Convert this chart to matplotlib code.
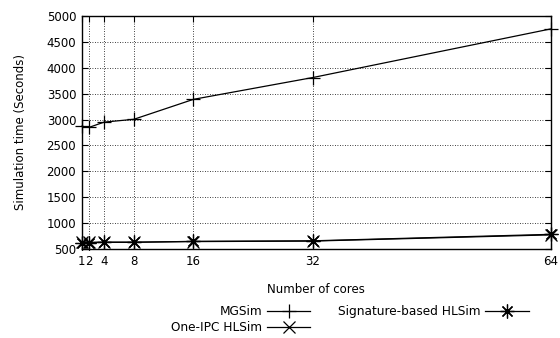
import matplotlib.pyplot as plt

# Data
cores = [1, 2, 4, 8, 16, 32, 64]
mgsim = [2870, 2850, 2950, 3005, 3390, 3810, 4750]
one_ipc = [635, 630, 635, 635, 645, 655, 775]
signature = [625, 625, 630, 630, 650, 660, 785]

xticks = [1, 2, 4, 8, 16, 32, 64]
xticklabels = ["1", "2", "4", "8", "16", "32", "64"]
yticks = [500, 1000, 1500, 2000, 2500, 3000, 3500, 4000, 4500, 5000]

plt.rcParams['font.family'] = ['DejaVu Sans']
plt.rcParams['font.size'] = 8

fig = plt.figure(figsize=(5.6, 3.38), dpi=100)
ax = fig.add_axes([0.146, 0.263, 0.838, 0.690])

ax.plot(cores, mgsim, color='black', lw=0.9, marker='+', ms=10, mew=0.9,
        clip_on=False, label="MGSim")
ax.plot(cores, one_ipc, color='black', lw=0.9, marker='x', ms=8, mew=0.9,
        clip_on=False, label="One-IPC HLSim")
ax.plot(cores, signature, color='black', lw=0.9, marker=(8, 2, 0), ms=10, mew=0.9,
        clip_on=False, label="Signature-based HLSim")

ax.set_xlim(1, 64)
ax.set_ylim(500, 5000)
ax.set_xticks(xticks)
ax.set_xticklabels(xticklabels)
ax.set_yticks(yticks)

ax.grid(True, color='black', linestyle=(0, (1, 2)), linewidth=0.6)
ax.tick_params(direction='in', top=True, right=True, length=4, width=0.8,
               colors='black', labelsize=8.5, pad=4)
for s in ax.spines.values():
    s.set_linewidth(1.0)
    s.set_color('black')

ax.set_xlabel("Number of cores", fontsize=8.5, labelpad=11)
ax.set_ylabel("Simulation time (Seconds)", fontsize=8.5, labelpad=14)

fig.legend(loc='center', bbox_to_anchor=(0.625, 0.054), ncol=2, frameon=False,
           markerfirst=False, fontsize=8.7, handlelength=3.6, handletextpad=0.4,
           columnspacing=2.3, labelspacing=0.25, borderaxespad=0)

fig.savefig("out.png", dpi=100)
